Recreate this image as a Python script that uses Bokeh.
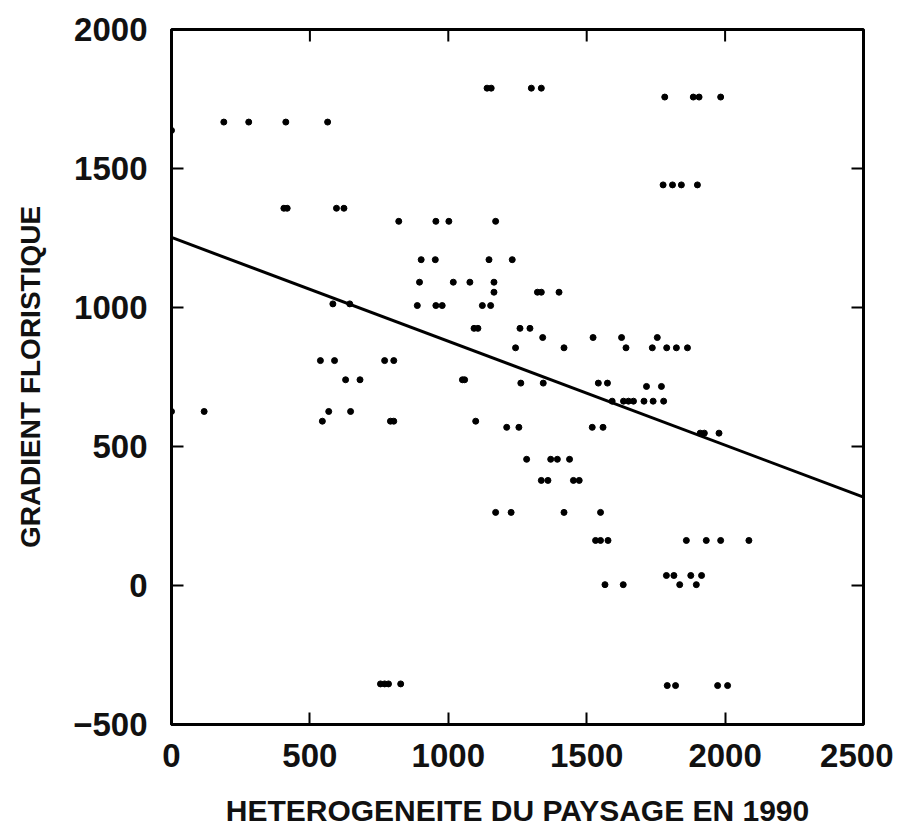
import math
from bokeh.plotting import figure
from bokeh.models import FixedTicker, Range1d
from bokeh.embed import file_html
from bokeh.resources import INLINE

# Heterogeneite du paysage en 1990 (x) and gradient floristique (y)
heterogeneite = [
    0,
    189, 279, 413, 564,
    1140, 1155, 1300, 1336,
    1782, 1885, 1906, 1984,
    1776, 1810, 1842, 1900,
    406, 418, 596, 623,
    821, 955, 1002, 1171,
    902, 953, 1147, 1231,
    896, 1018, 1078, 1165,
    1165, 1322, 1336, 1400,
    583, 644,
    888, 955, 978, 1123, 1153,
    1093, 1107, 1259, 1295,
    1341, 1523, 1626, 1755,
    1243, 1418, 1642, 1737, 1789, 1824, 1864,
    538, 589, 770, 803,
    629, 681, 1051, 1059,
    1262, 1343, 1542, 1575,
    1716, 1770,
    1592, 1633, 1651, 1669, 1707, 1740, 1778,
    0, 118, 568, 647,
    545, 791, 803, 1099,
    1211, 1255, 1520, 1559,
    1910, 1925, 1978,
    1283, 1370, 1394, 1438,
    1336, 1360, 1452, 1473,
    1171, 1227, 1418, 1550,
    1532, 1550, 1577, 1860, 1932, 1984, 2086,
    1788, 1815, 1876, 1915,
    1566, 1632, 1836, 1896,
    755, 770, 784, 828,
    1791, 1821, 1973, 2009,
]
gradient = [
    1637,
    1667, 1667, 1667, 1667,
    1789, 1789, 1789, 1789,
    1757, 1757, 1757, 1757,
    1441, 1441, 1441, 1441,
    1357, 1357, 1357, 1357,
    1310, 1310, 1310, 1310,
    1172, 1172, 1172, 1172,
    1091, 1091, 1091, 1091,
    1055, 1055, 1055, 1055,
    1013, 1013,
    1007, 1007, 1007, 1007, 1007,
    925, 925, 925, 925,
    892, 892, 892, 892,
    855, 855, 855, 855, 855, 855, 855,
    809, 809, 809, 809,
    740, 740, 740, 740,
    728, 728, 728, 728,
    716, 716,
    663, 663, 663, 663, 663, 663, 663,
    626, 626, 626, 626,
    591, 591, 591, 591,
    569, 569, 569, 569,
    548, 548, 548,
    454, 454, 454, 454,
    378, 378, 378, 378,
    263, 263, 263, 263,
    162, 162, 162, 162, 162, 162, 162,
    36, 36, 36, 36,
    3, 3, 3, 3,
    -354, -354, -354, -354,
    -360, -360, -360, -360,
]

# regression line end points
fit_x = [0, 2500]
fit_y = [1252, 318]

x_ticks = [0, 500, 1000, 1500, 2000, 2500]
y_ticks = [-500, 0, 500, 1000, 1500, 2000]

FONT = "Liberation Sans"

p = figure(width=893, height=832, output_backend="svg", toolbar_location=None,
           x_range=Range1d(0, 2500), y_range=Range1d(-500, 2000),
           min_border_left=171, min_border_right=30, min_border_top=29,
           min_border_bottom=108, x_axis_label="HETEROGENEITE DU PAYSAGE EN 1990",
           y_axis_label="GRADIENT FLORISTIQUE")
p.grid.visible = False
p.outline_line_color = "black"
p.outline_line_width = 3
p.background_fill_color = "white"
p.border_fill_color = "white"

for ax, ticks in ((p.xaxis[0], x_ticks), (p.yaxis[0], y_ticks)):
    ax.ticker = FixedTicker(ticks=ticks)
    ax.major_tick_in = 12
    ax.major_tick_out = 0
    ax.minor_tick_in = 0
    ax.minor_tick_out = 0
    ax.major_tick_line_width = 2
    ax.axis_line_width = 3
    ax.major_label_text_font = FONT
    ax.major_label_text_font_style = "bold"
    ax.major_label_text_font_size = "33px"
    ax.major_label_text_color = "#111111"
    ax.axis_label_text_font = FONT
    ax.axis_label_text_font_style = "bold"
    ax.axis_label_text_color = "#111111"

p.xaxis[0].major_label_standoff = 19
p.xaxis[0].axis_label_text_font_size = "30px"
p.xaxis[0].axis_label_standoff = 24
p.yaxis[0].major_label_standoff = 24
p.yaxis[0].axis_label_text_font_size = "28px"
p.yaxis[0].axis_label_standoff = 24

# inward tick marks on the top and right edges of the frame
p.ray(x=x_ticks, y=[2000] * len(x_ticks), length=12, length_units="screen",
      angle=-math.pi / 2, line_color="black", line_width=2)
p.ray(x=[2500] * len(y_ticks), y=y_ticks, length=12, length_units="screen",
      angle=math.pi, line_color="black", line_width=2)

p.line(fit_x, fit_y, line_color="black", line_width=3)
p.scatter(heterogeneite, gradient, size=6, fill_color="black", line_color="black")

open("out.html", "w").write(file_html(p, INLINE))
